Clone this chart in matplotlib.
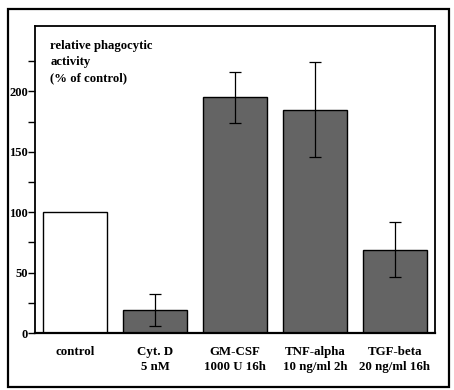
import matplotlib
matplotlib.use("Agg")
import matplotlib.pyplot as plt
from matplotlib.patches import Rectangle
from matplotlib.ticker import FixedLocator

categories = ["control", "Cyt. D\n5 nM", "GM-CSF\n1000 U 16h", "TNF-alpha\n10 ng/ml 2h", "TGF-beta\n20 ng/ml 16h"]
values = [100, 19, 195, 185, 69]
errors = [0, 13, 21, 39, 23]
colors = ["white", "#646464", "#646464", "#646464", "#646464"]
yticks = [0, 50, 100, 150, 200]
yminor = [25, 75, 125, 175, 225]

plt.rcParams['font.family'] = ['Liberation Serif', 'DejaVu Serif']

fig = plt.figure(figsize=(4.54, 3.90), dpi=100)
fig.patch.set_facecolor("white")
fig.add_artist(Rectangle((0.017, 0.008), 0.972, 0.97, transform=fig.transFigure,
                         fill=False, edgecolor="black", linewidth=1.6))

ax = fig.add_axes([0.077, 0.146, 0.881, 0.787])
x = list(range(len(categories)))
ax.bar(x, values, width=0.79, color=colors, edgecolor="black", linewidth=1.0, zorder=2)
ax.errorbar(x[1:], values[1:], yerr=errors[1:], fmt="none", ecolor="black",
            elinewidth=0.9, capsize=4, capthick=0.9, zorder=3)

ax.set_xlim(-0.5, 4.5)
ax.set_ylim(0, 254)
ax.yaxis.set_major_locator(FixedLocator(yticks))
ax.yaxis.set_minor_locator(FixedLocator(yminor))
ax.tick_params(axis="y", which="both", direction="out", length=5, width=1.0,
               labelsize=9, pad=0)
ax.set_xticks(x)
ax.set_xticklabels(categories, fontsize=9.3, fontweight="bold", linespacing=1.35)
ax.tick_params(axis="x", length=0, pad=9)
for lab in ax.get_yticklabels():
    lab.set_fontweight("bold")
for s in ax.spines.values():
    s.set_linewidth(1.3)
ax.spines["bottom"].set_linewidth(1.6)

ax.text(0.038, 0.955, "relative phagocytic\nactivity\n(% of control)", transform=ax.transAxes,
        fontsize=9.2, fontweight="bold", va="top", ha="left", linespacing=1.45)

fig.savefig("out.png", dpi=100, facecolor="white")
